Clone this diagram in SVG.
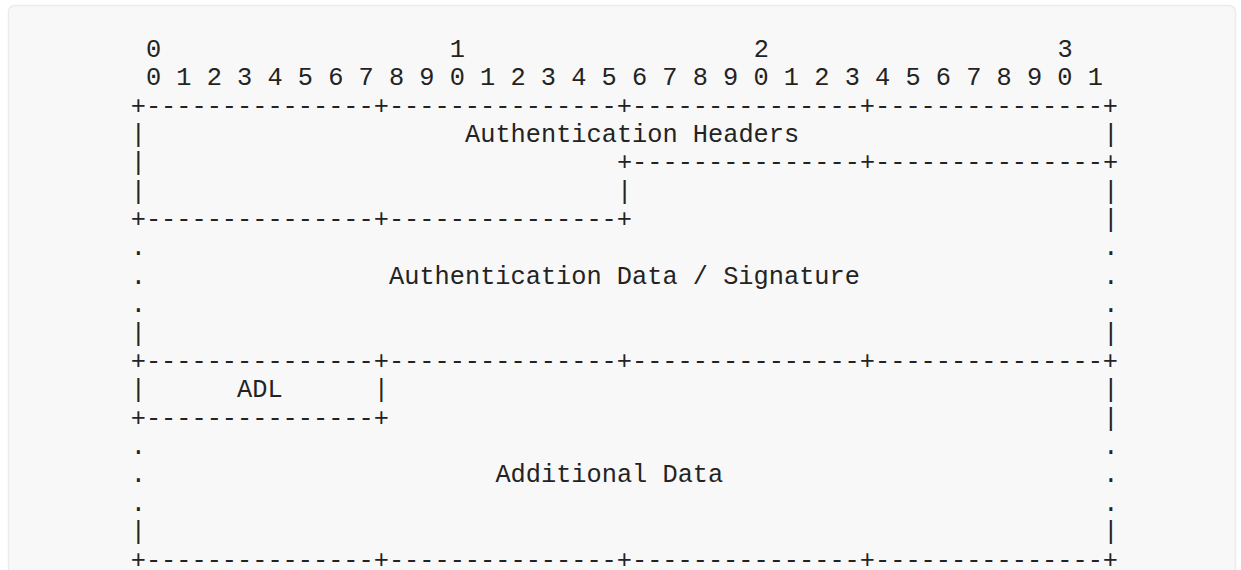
<svg xmlns="http://www.w3.org/2000/svg" width="1241" height="570" viewBox="0 0 1241 570">
<style>
.t{font-family:"Liberation Mono","DejaVu Sans Mono",monospace;font-size:25.32px;fill:#232323;white-space:pre}
</style>
<rect x="0" y="0" width="1241" height="570" fill="#ffffff"/>
<rect id="card" x="8.5" y="5.5" width="1227" height="600" rx="6" ry="6" fill="#f8f8f8" stroke="#ebebeb" stroke-width="1.5"/>
<g id="ruler">
<text class="t" x="145.9" y="56.7">0</text>
<text class="t" x="449.8" y="56.7">1</text>
<text class="t" x="753.7" y="56.7">2</text>
<text class="t" x="1057.6" y="56.7">3</text>
<text class="t" x="145.9" y="85.1">0 1 2 3 4 5 6 7 8 9 0 1 2 3 4 5 6 7 8 9 0 1 2 3 4 5 6 7 8 9 0 1</text>
</g>
<g id="auth-headers">
<text class="t" x="130.7" y="113.5">+---------------+---------------+---------------+---------------+</text>
<text class="t" x="130.7" y="141.8">|</text>
<text class="t" x="465.0" y="141.8">Authentication Headers</text>
<text class="t" x="1103.2" y="141.8">|</text>
<text class="t" x="130.7" y="170.2">|</text>
<text class="t" x="616.9" y="170.2">+---------------+---------------+</text>
<text class="t" x="130.7" y="198.6">|</text>
<text class="t" x="616.9" y="198.6">|</text>
<text class="t" x="1103.2" y="198.6">|</text>
<text class="t" x="130.7" y="227.0">+---------------+---------------+</text>
<text class="t" x="1103.2" y="227.0">|</text>
</g>
<g id="auth-data">
<text class="t" x="130.7" y="255.3">.</text>
<text class="t" x="1103.2" y="255.3">.</text>
<text class="t" x="130.7" y="283.7">.</text>
<text class="t" x="389.0" y="283.7">Authentication Data / Signature</text>
<text class="t" x="1103.2" y="283.7">.</text>
<text class="t" x="130.7" y="312.1">.</text>
<text class="t" x="1103.2" y="312.1">.</text>
<text class="t" x="130.7" y="340.5">|</text>
<text class="t" x="1103.2" y="340.5">|</text>
<text class="t" x="130.7" y="368.9">+---------------+---------------+---------------+---------------+</text>
</g>
<g id="adl">
<text class="t" x="130.7" y="397.2">|</text>
<text class="t" x="237.1" y="397.2">ADL</text>
<text class="t" x="373.8" y="397.2">|</text>
<text class="t" x="130.7" y="425.6">+---------------+</text>
</g>
<g id="additional-data">
<text class="t" x="1103.2" y="397.2">|</text>
<text class="t" x="1103.2" y="425.6">|</text>
<text class="t" x="130.7" y="454.0">.</text>
<text class="t" x="1103.2" y="454.0">.</text>
<text class="t" x="130.7" y="482.4">.</text>
<text class="t" x="495.4" y="482.4">Additional Data</text>
<text class="t" x="1103.2" y="482.4">.</text>
<text class="t" x="130.7" y="510.7">.</text>
<text class="t" x="1103.2" y="510.7">.</text>
<text class="t" x="130.7" y="539.1">|</text>
<text class="t" x="1103.2" y="539.1">|</text>
<text class="t" x="130.7" y="567.5">+---------------+---------------+---------------+---------------+</text>
</g>
<g id="connectors"></g>
</svg>
